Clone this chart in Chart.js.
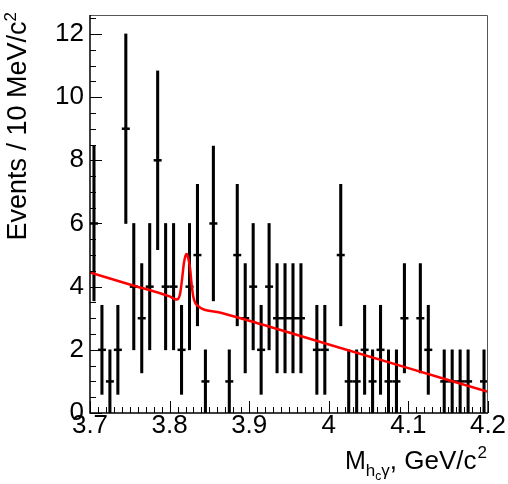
<!DOCTYPE html>
<html>
<head>
<meta charset="utf-8">
<script src="https://cdn.jsdelivr.net/npm/chart.js@4.4.1/dist/chart.umd.min.js"></script>
<style>
  html, body { margin: 0; padding: 0; background: #fff; }
  #plot { display: block; }
</style>
</head>
<body>
<canvas id="plot" width="508" height="484"></canvas>
<script>
// --- data ---
const binCenters = [
    3.705, 3.715, 3.725, 3.735, 3.745, 3.755, 3.765, 3.775, 3.785, 3.795,
    3.805, 3.815, 3.825, 3.835, 3.845, 3.855, 3.865, 3.875, 3.885, 3.895,
    3.905, 3.915, 3.925, 3.935, 3.945, 3.955, 3.965, 3.975, 3.985, 3.995,
    4.005, 4.015, 4.025, 4.035, 4.045, 4.055, 4.065, 4.075, 4.085, 4.095,
    4.105, 4.115, 4.125, 4.135, 4.145, 4.155, 4.165, 4.175, 4.185, 4.195
];
const eventCounts = [
    6, 2, 1, 2, 9, 4, 3, 4, 8, 4,
    4, 2, 4, 5, 1, 6, 0, 1, 5, 3,
    4, 2, 4, 3, 3, 3, 3, 0, 2, 2,
    0, 5, 1, 1, 2, 1, 2, 1, 1, 3,
    0, 3, 2, 0, 1, 1, 1, 1, 0, 1
];
const eventErrors = [
    2.45, 1.41, 1, 1.41, 3, 2, 1.73, 2, 2.83, 2,
    2, 1.41, 2, 2.24, 1, 2.45, 0, 1, 2.24, 1.73,
    2, 1.41, 2, 1.73, 1.73, 1.73, 1.73, 0, 1.41, 1.41,
    0, 2.24, 1, 1, 1.41, 1, 1.41, 1, 1, 1.73,
    0, 1.73, 1.41, 0, 1, 1, 1, 1, 0, 1
];

// fit curve
const fitMass = [3.700, 3.750, 3.800, 3.809, 3.813, 3.8155, 3.818, 3.820, 3.8215, 3.823,
                 3.8256, 3.828, 3.8298, 3.834, 3.860, 3.900, 4.000, 4.100, 4.200];
const fitValue = [4.45, 4.07, 3.69, 3.59, 3.75, 4.20, 4.75, 4.98, 5.03, 4.95,
                  4.60, 4.00, 3.68, 3.42, 3.20, 2.92, 2.17, 1.42, 0.67];

const xMajorTicks = [3.7, 3.8, 3.9, 4.0, 4.1, 4.2];
const xTickLabels = ['3.7', '3.8', '3.9', '4', '4.1', '4.2'];
const yMajorTicks = [0, 2, 4, 6, 8, 10, 12];
const yTickLabels = ['0', '2', '4', '6', '8', '10', '12'];

const FONT = '"Liberation Sans", Arial, Helvetica, sans-serif';

// skip empty bins, ROOT does not draw them
const filled = [];
eventCounts.forEach((n, i) => {
    if (n > 0) filled.push(i);
});

const barData = filled.map(i => ({ x: binCenters[i], y: [eventCounts[i] - eventErrors[i], eventCounts[i] + eventErrors[i]] }));
const pointData = filled.map(i => ({ x: binCenters[i], y: eventCounts[i] }));
const fitData = fitMass.map((m, i) => ({ x: m, y: fitValue[i] }));

// ticks inside the frame, frame box and axis titles
const rootAxes = {
    id: 'rootAxes',
    afterDraw(chart) {
        const ctx = chart.ctx;
        const a = chart.chartArea;
        const xs = chart.scales.x;
        const ys = chart.scales.y;
        ctx.save();

        // frame
        ctx.strokeStyle = '#555';
        ctx.lineWidth = 1;
        ctx.beginPath();
        ctx.moveTo(a.left, a.top + 0.5);
        ctx.lineTo(a.right - 0.5, a.top + 0.5);
        ctx.lineTo(a.right - 0.5, a.bottom);
        ctx.stroke();

        ctx.strokeStyle = '#000';
        ctx.lineWidth = 1.5;
        ctx.beginPath();
        ctx.moveTo(a.left, a.top);
        ctx.lineTo(a.left, a.bottom);
        ctx.lineTo(a.right, a.bottom);
        ctx.stroke();

        // ticks
        ctx.lineWidth = 1;
        ctx.beginPath();
        for (let k = 0; k <= 50; k++) {
            const v = 3.7 + k * 0.01;
            const px = Math.round(xs.getPixelForValue(v)) + 0.5;
            const len = (k % 10 === 0) ? 12 : 6;
            ctx.moveTo(px, a.bottom);
            ctx.lineTo(px, a.bottom - len);
        }
        for (let k = 0; k <= 25; k++) {
            const v = k * 0.5;
            const py = Math.round(ys.getPixelForValue(v)) + 0.5;
            const len = (k % 4 === 0) ? 12 : 6;
            ctx.moveTo(a.left, py);
            ctx.lineTo(a.left + len, py);
        }
        ctx.stroke();

        // y title
        ctx.fillStyle = '#000';
        ctx.textBaseline = 'alphabetic';
        ctx.save();
        ctx.translate(26, 12);
        ctx.rotate(-Math.PI / 2);
        ctx.font = '17px ' + FONT;
        const supW = ctx.measureText('2').width;
        ctx.textAlign = 'right';
        ctx.fillText('2', 0, -10);
        ctx.font = '27px ' + FONT;
        ctx.fillText('Events / 10 MeV/c', -supW, 0);
        ctx.restore();

        // x title
        let x = 345;
        const base = 469;
        ctx.textAlign = 'left';
        ctx.font = '25px ' + FONT;
        ctx.fillText('M', x, base);
        x += ctx.measureText('M').width;
        ctx.font = '17px ' + FONT;
        ctx.fillText('h', x, base + 7);
        x += ctx.measureText('h').width;
        ctx.font = '12px ' + FONT;
        ctx.fillText('c', x, base + 11);
        x += ctx.measureText('c').width;
        ctx.font = '17px ' + FONT;
        ctx.fillText('\u03b3', x, base + 7);
        x += ctx.measureText('\u03b3').width;
        ctx.font = '26px ' + FONT;
        ctx.fillText(', GeV/c', x, base);
        x += ctx.measureText(', GeV/c').width;
        ctx.font = '17px ' + FONT;
        ctx.fillText('2', x + 1, base - 11);

        ctx.restore();
    }
};

new Chart(document.getElementById('plot'), {
    data: {
        datasets: [
            {
                type: 'line',
                data: fitData,
                borderColor: '#ff0000',
                borderWidth: 2.5,
                pointRadius: 0,
                cubicInterpolationMode: 'monotone',
                order: 0
            },
            {
                type: 'scatter',
                data: pointData,
                pointStyle: 'line',
                pointRadius: 4,
                borderColor: '#000',
                borderWidth: 2.5,
                order: 1
            },
            {
                type: 'bar',
                data: barData,
                backgroundColor: '#000',
                borderWidth: 0,
                barThickness: 2.4,
                grouped: false,
                order: 2
            }
        ]
    },
    options: {
        responsive: false,
        animation: false,
        events: [],
        layout: { padding: { top: 15, right: 20, left: 0, bottom: 0 } },
        plugins: {
            legend: { display: false },
            tooltip: { enabled: false }
        },
        scales: {
            x: {
                type: 'linear',
                min: 3.7,
                max: 4.2,
                offset: false,
                grid: { display: false, drawTicks: false, offset: false },
                border: { display: false },
                afterBuildTicks: (scale) => {
                    scale.ticks = xMajorTicks.map(v => ({ value: v }));
                },
                afterFit: (scale) => {
                    scale.height = 71;
                    scale.paddingLeft = 0;
                    scale.paddingRight = 0;
                },
                ticks: {
                    autoSkip: false,
                    maxRotation: 0,
                    padding: 0,
                    color: '#000',
                    font: { family: FONT, size: 26, lineHeight: 1 },
                    callback: (value, index) => xTickLabels[index]
                }
            },
            y: {
                type: 'linear',
                min: 0,
                max: 12.6,
                grid: { display: false, drawTicks: false },
                border: { display: false },
                afterBuildTicks: (scale) => {
                    scale.ticks = yMajorTicks.map(v => ({ value: v }));
                },
                afterFit: (scale) => {
                    scale.width = 90;
                    scale.paddingTop = 0;
                    scale.paddingBottom = 0;
                },
                ticks: {
                    autoSkip: false,
                    padding: 6,
                    color: '#000',
                    font: { family: FONT, size: 26, lineHeight: 1 },
                    callback: (value, index) => yTickLabels[index]
                }
            }
        }
    },
    plugins: [rootAxes]
});
</script>
</body>
</html>
